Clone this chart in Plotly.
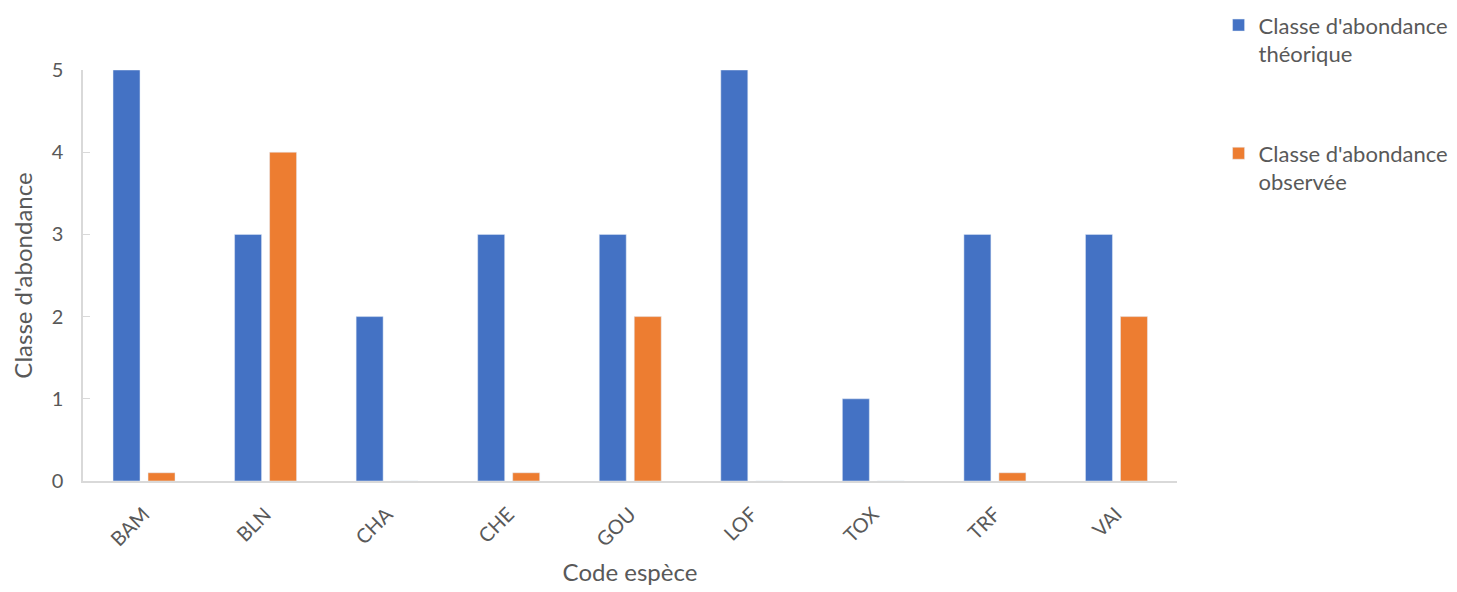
import plotly.graph_objects as go

categories = ["BAM", "BLN", "CHA", "CHE", "GOU", "LOF", "TOX", "TRF", "VAI"]
theorique = [5, 3, 2, 3, 3, 5, 1, 3, 3]
observee = [0.1, 4, 0, 0.1, 2, 0, 0, 0.1, 2]
series_names = ["Classe d'abondance<br>théorique", "Classe d'abondance<br>observée"]
y_ticks = [0, 1, 2, 3, 4, 5]

FONT = "Lato"
GREY = "#595959"

fig = go.Figure()
fig.add_trace(go.Bar(
    x=categories, y=theorique, name=series_names[0],
    marker=dict(color="#4472C4"), width=0.222, offset=-0.253,
    legendgroup="a",
))
fig.add_trace(go.Bar(
    x=categories, y=observee, name=series_names[1],
    marker=dict(color="#ED7D31"), width=0.222, offset=0.035,
    legendgroup="b",
))

# page body has an 8px default margin; compensate in the figure margins
fig.update_layout(
    width=1457, height=592,
    margin=dict(l=75, r=288, t=62, b=119, autoexpand=False),
    plot_bgcolor="white", paper_bgcolor="white",
    font=dict(family=FONT, color=GREY),
    barmode="group",
    showlegend=True,
    legend=dict(
        x=1.038, y=1.16, xanchor="left", yanchor="top",
        font=dict(family=FONT, size=22, color=GREY),
        tracegroupgap=68, itemwidth=30, valign="top",
        bgcolor="rgba(0,0,0,0)",
    ),
    xaxis=dict(
        type="category", range=[-0.5, 8.5], automargin=False,
        showline=True, linecolor="#d9d9d9", linewidth=1.5,
        tickangle=-45, tickfont=dict(family=FONT, size=20, color=GREY),
        ticklabelstandoff=12,
        ticks="", title=dict(text="Code espèce", font=dict(family=FONT, size=24, color=GREY), standoff=14),
        mirror=False,
    ),
    yaxis=dict(
        range=[0, 5], tickvals=y_ticks, automargin=False,
        showline=True, linecolor="#d9d9d9", linewidth=1.5,
        showgrid=False, zeroline=False,
        ticks="inside", ticklen=7, tickcolor="#d9d9d9",
        ticklabelstandoff=14,
        tickfont=dict(family=FONT, size=20, color=GREY),
        title=dict(text="Classe d'abondance", font=dict(family=FONT, size=24, color=GREY), standoff=22),
    ),
)

fig.write_html("out.html")
